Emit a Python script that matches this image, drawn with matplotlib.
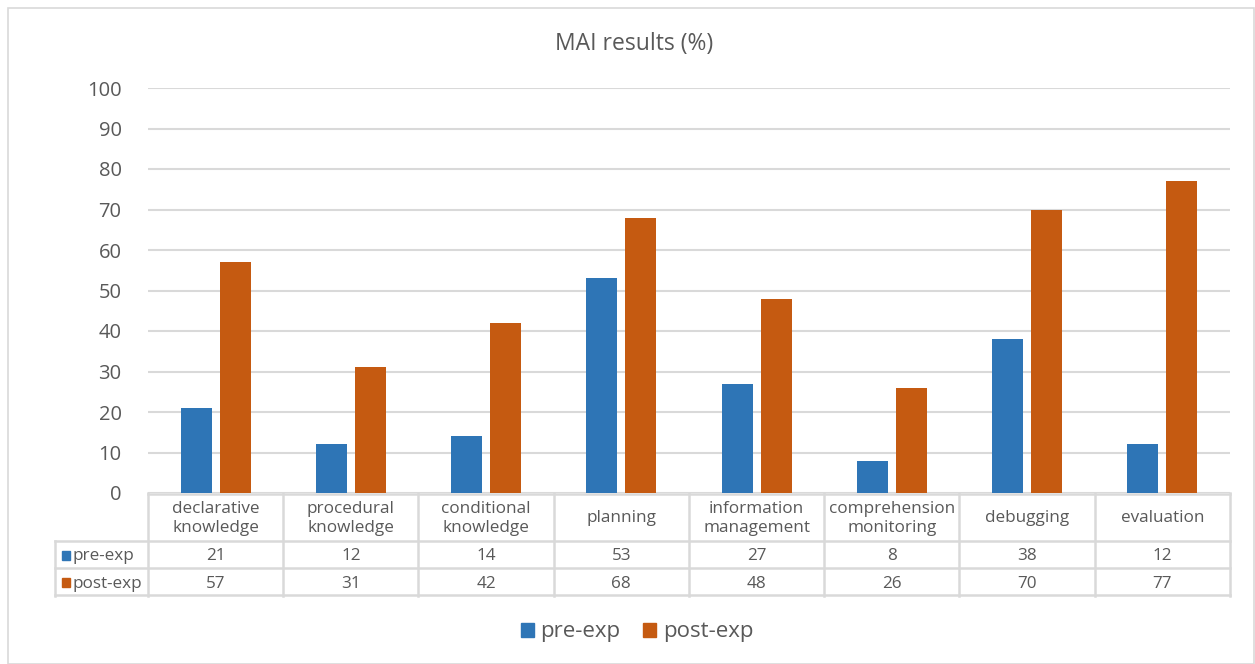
import matplotlib.pyplot as plt
from matplotlib.patches import Rectangle, Patch

categories = ['declarative\nknowledge', 'procedural\nknowledge', 'conditional\nknowledge',
              'planning', 'information\nmanagement', 'comprehension\nmonitoring',
              'debugging', 'evaluation']
pre_exp = [21, 12, 14, 53, 27, 8, 38, 12]
post_exp = [57, 31, 42, 68, 48, 26, 70, 77]
series_names = ['pre-exp', 'post-exp']
yticks = [0, 10, 20, 30, 40, 50, 60, 70, 80, 90, 100]

blue = '#2E75B6'
orange = '#C55A11'
grid = '#D9D9D9'
txt = '#595959'

plt.rcParams['font.family'] = ['Open Sans', 'DejaVu Sans']

W, H = 1255, 664
fig = plt.figure(figsize=(W / 100, H / 100), dpi=100)

# chart border
fig.patches.append(Rectangle((8 / W, 0), 1 - 9 / W, 1 - 8 / H, transform=fig.transFigure,
                             fill=False, edgecolor=grid, linewidth=1.2))

left, right, top, bottom = 148, 1230, 88, 493
ax = fig.add_axes([left / W, 1 - bottom / H, (right - left) / W, (bottom - top) / H])
n = len(categories)
x = list(range(n))
bw = 0.23
off = 0.144
ax.bar([i - off for i in x], pre_exp, bw, color=blue, zorder=3)
ax.bar([i + off for i in x], post_exp, bw, color=orange, zorder=3)
ax.set_xlim(-0.5, n - 0.5)
ax.set_ylim(0, 100)
ax.set_yticks(yticks)
ax.set_xticks([])
ax.yaxis.grid(True, color=grid, linewidth=1.5)
ax.set_axisbelow(True)
for s in ax.spines.values():
    s.set_visible(False)
ax.tick_params(axis='y', length=0, pad=19, labelsize=14.5, labelcolor=txt)

# data table
tb = 596
tax = fig.add_axes([left / W, 1 - tb / H, (right - left) / W, (tb - bottom) / H])
tax.set_xlim(-0.5, n - 0.5)
tax.set_ylim(tb, bottom)
tax.axis('off')
r1, r2 = 541, 568
lab_left = -0.5 - (left - 55) / ((right - left) / n)
lw = 1.8
tax.plot([-0.5, n - 0.5], [bottom + 1, bottom + 1], color=grid, lw=lw, clip_on=False)
for yy in [r1, r2, tb - 1]:
    tax.plot([lab_left, n - 0.5], [yy, yy], color=grid, lw=lw, clip_on=False)
for i in range(n + 1):
    tax.plot([i - 0.5, i - 0.5], [bottom, tb], color=grid, lw=lw, clip_on=False)
tax.plot([lab_left, lab_left], [r1, tb], color=grid, lw=lw, clip_on=False)

fs = 12.3
for i, c in enumerate(categories):
    tax.text(i, (bottom + r1) / 2 + 1.5, c, ha='center', va='center', fontsize=fs,
             color=txt, linespacing=1.2)
    tax.text(i, (r1 + r2) / 2 + 1.5, str(pre_exp[i]), ha='center', va='center', fontsize=fs, color=txt)
    tax.text(i, (r2 + tb) / 2 + 1.5, str(post_exp[i]), ha='center', va='center', fontsize=fs, color=txt)

for yy, name, col in [((r1 + r2) / 2, series_names[0], blue), ((r2 + tb) / 2, series_names[1], orange)]:
    tax.add_patch(Rectangle((lab_left + 0.05, yy - 4), 0.06, 9, color=col, clip_on=False))
    tax.text(lab_left + 0.13, yy + 1.5, name, ha='left', va='center', fontsize=fs, color=txt)

fig.text(634 / W, 1 - 44 / H, 'MAI results (%)', ha='center', va='center', fontsize=16.5, color=txt)

# legend
handles = [Patch(color=blue, label=series_names[0]), Patch(color=orange, label=series_names[1])]
fig.legend(handles=handles, loc='center', bbox_to_anchor=(637 / W, 1 - 632 / H), ncol=2,
           frameon=False, fontsize=16, labelcolor=txt, handlelength=0.6, handleheight=0.6,
           handletextpad=0.3, columnspacing=1.0)

fig.savefig('out.png', dpi=100)
